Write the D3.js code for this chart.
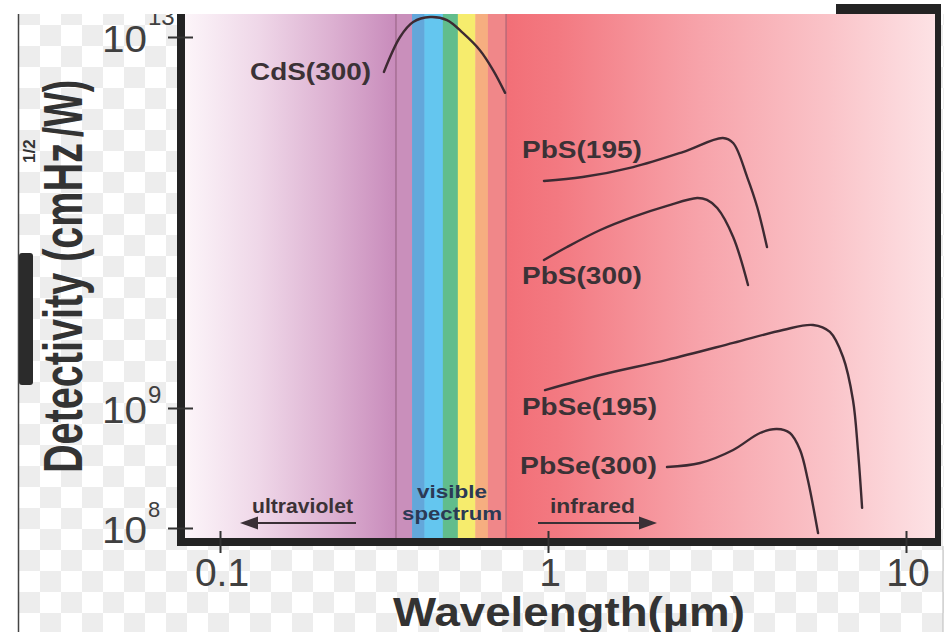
<!DOCTYPE html>
<html><head><meta charset="utf-8">
<script src="https://cdn.jsdelivr.net/npm/d3@7"></script>
<style>html,body{margin:0;padding:0;background:#fff;overflow:hidden}</style>
</head><body>
<svg id="c" width="944" height="632"></svg>
<script>
// ---------- DATA ----------
const wavelengthTicks = [0.1, 1, 10];
const wavelengthTickLabels = ["0.1", "1", "10"];
const detectivityTicks = [1e8, 1e9, 1e13];
const detectivityTickExponents = ["8", "9", "13"];

// [wavelength (µm), detectivity (cmHz^1/2/W)]
const cdS300 = [[0.316,4.2e12],[0.354,1.0e13],[0.388,1.45e13],[0.437,1.64e13],[0.492,1.52e13],[0.551,1.1e13],[0.620,7.2e12],[0.680,4.4e12],[0.740,2.5e12]];
const pbS195 = [[0.972,2.8e11],[1.25,3.09e11],[1.73,3.96e11],[2.38,5.75e11],[3.08,8.15e11],[3.29,7.2e11],[3.60,3.09e11],[3.84,1.47e11],[4.09,5.44e10]];
const pbS300 = [[0.972,3.94e10],[1.13,5.44e10],[1.40,8.3e10],[1.73,1.15e11],[2.15,1.51e11],[2.61,1.84e11],[2.78,1.75e11],[2.97,1.43e11],[3.29,6.98e10],[3.62,2.12e10]];
const pbSe195 = [[0.979,1.56e9],[1.40,2.27e9],[2.15,3.3e9],[3.29,5.03e9],[4.53,6.94e9],[5.50,7.86e9],[6.13,6.6e9],[6.67,3.55e9],[7.11,1.22e9],[7.34,4.47e8],[7.54,1.47e8]];
const pbSe300 = [[2.15,3.22e8],[2.66,3.48e8],[3.29,4.47e8],[3.91,6.19e8],[4.36,6.68e8],[4.74,6.19e8],[5.06,4.47e8],[5.32,2.51e8],[5.68,9.08e7]];
const seriesNames = ["CdS(300)", "PbS(195)", "PbS(300)", "PbSe(195)", "PbSe(300)"];
const seriesData = [cdS300, pbS195, pbS300, pbSe195, pbSe300];

// visible spectrum bands (µm edges) and colours
const bandEdges = [0.344, 0.385, 0.42, 0.478, 0.531, 0.60, 0.656, 0.745];
const bandColors = ["#c98fbb", "#63a7da", "#64c6ef", "#61bd8c", "#f6ec6d", "#f6ae80", "#f08789"];

// ---------- LAYOUT ----------
const FONT = "'Liberation Sans', Arial, Helvetica, sans-serif";
const plot = {left: 185, right: 935, top: 14, bottom: 538};
const labelPos = [
  {x: 371, y: 80, w: 121, anchor: "end"},
  {x: 522, y: 158, w: 120, anchor: "start"},
  {x: 522, y: 284, w: 120, anchor: "start"},
  {x: 522, y: 415, w: 135, anchor: "start"},
  {x: 520, y: 474, w: 137, anchor: "start"}
];
const expOffsets = [-11, -5, -12];   // superscript baseline offset from tick
const expSizes = [22, 24, 24];

const svg = d3.select("#c");
const defs = svg.append("defs");

// scales (piecewise log, as in the original drawing)
const x = d3.scaleLog().domain([0.1, 1, 10]).range([220, 548, 906]);
const y = d3.scaleLog().domain([1e8, 1e9, 1e13]).range([528, 408, 37]);

// checkerboard pattern
const pat = defs.append("pattern").attr("id", "checker").attr("patternUnits", "userSpaceOnUse")
  .attr("width", 42).attr("height", 42).attr("x", 19).attr("y", 4);
pat.append("rect").attr("width", 42).attr("height", 42).attr("fill", "#ffffff");
pat.append("rect").attr("width", 21).attr("height", 21).attr("fill", "#ededed");
pat.append("rect").attr("x", 21).attr("y", 21).attr("width", 21).attr("height", 21).attr("fill", "#ededed");

function gradient(id, stops) {
  const g = defs.append("linearGradient").attr("id", id).attr("x1", 0).attr("x2", 1).attr("y1", 0).attr("y2", 0);
  stops.forEach(s => g.append("stop").attr("offset", s[0]).attr("stop-color", s[1]));
}
gradient("uvGrad", [[0, "#fcf5f9"], [0.35, "#efd7e8"], [0.7, "#dcb0d1"], [1, "#c88bbb"]]);
gradient("irGrad", [[0, "#f26f77"], [0.12, "#f37981"], [0.45, "#f7a3aa"], [0.75, "#fac3c8"], [1, "#fde2e5"]]);

// backgrounds
svg.append("rect").attr("width", 944).attr("height", 632).attr("fill", "#fff");
svg.append("rect").attr("x", 19).attr("y", 14).attr("width", 925).attr("height", 618).attr("fill", "url(#checker)");

// plot regions
svg.append("rect").attr("x", plot.left).attr("y", plot.top)
  .attr("width", x(bandEdges[0]) - plot.left).attr("height", plot.bottom - plot.top).attr("fill", "url(#uvGrad)");
svg.append("rect").attr("x", x(bandEdges[bandEdges.length - 1])).attr("y", plot.top)
  .attr("width", plot.right - x(bandEdges[bandEdges.length - 1])).attr("height", plot.bottom - plot.top).attr("fill", "url(#irGrad)");
svg.append("g").selectAll("rect").data(bandColors).join("rect")
  .attr("x", (d, i) => x(bandEdges[i]))
  .attr("width", (d, i) => x(bandEdges[i + 1]) - x(bandEdges[i]) + 0.5)
  .attr("y", plot.top).attr("height", plot.bottom - plot.top).attr("fill", d => d);
// boundary lines of visible region
[bandEdges[0], bandEdges[bandEdges.length - 1]].forEach(v => {
  svg.append("line").attr("x1", x(v)).attr("x2", x(v)).attr("y1", plot.top).attr("y2", plot.bottom)
    .attr("stroke", "#7a4a62").attr("stroke-opacity", 0.45).attr("stroke-width", 1.5);
});

// curves
const line = d3.line().x(d => x(d[0])).y(d => y(d[1])).curve(d3.curveCatmullRom.alpha(0.5));
svg.append("g").selectAll("path").data(seriesData).join("path")
  .attr("d", line).attr("fill", "none").attr("stroke", "#3d2a32").attr("stroke-width", 2.4)
  .attr("stroke-linecap", "round");

function label(parent, o) {
  const g = parent.append("g").attr("transform", `translate(${o.x},${o.y})${o.tf || ""}`);
  const t = g.append("text").attr("font-family", FONT).attr("font-size", o.size)
    .attr("font-weight", o.weight || "bold").attr("fill", o.fill || "#3b3236")
    .attr("text-anchor", o.anchor || "start").text(o.text);
  if (o.w) {
    const L = t.node().getComputedTextLength();
    t.attr("transform", `scale(${o.w / L},1)`);
  }
  return t;
}

// series labels
seriesNames.forEach((n, i) => {
  const p = labelPos[i];
  label(svg, {x: p.x, y: p.y, text: n, size: 23, w: p.w, anchor: p.anchor});
});

// region labels + arrows
label(svg, {x: 252, y: 513, text: "ultraviolet", size: 20, w: 101});
label(svg, {x: 452, y: 498, text: "visible", size: 18, w: 70, anchor: "middle", fill: "#2b3a55"});
label(svg, {x: 452, y: 520, text: "spectrum", size: 18, w: 100, anchor: "middle", fill: "#2b3a55"});
label(svg, {x: 550, y: 513, text: "infrared", size: 20, w: 85});
const arrowC = "#3a3036";
svg.append("line").attr("x1", 356).attr("x2", 254).attr("y1", 523).attr("y2", 523).attr("stroke", arrowC).attr("stroke-width", 2);
svg.append("path").attr("d", "M240,523 L258,516.5 L258,529.5 Z").attr("fill", arrowC);
svg.append("line").attr("x1", 538).attr("x2", 643).attr("y1", 523).attr("y2", 523).attr("stroke", arrowC).attr("stroke-width", 2);
svg.append("path").attr("d", "M657,523 L639,516.5 L639,529.5 Z").attr("fill", arrowC);

// axes frame (thick lines)
const frameC = "#232323";
svg.append("rect").attr("x", 177).attr("y", plot.top).attr("width", 8).attr("height", 546 - plot.top).attr("fill", frameC);
svg.append("rect").attr("x", 177).attr("y", plot.bottom).attr("width", 941 - 177).attr("height", 8).attr("fill", frameC);
svg.append("rect").attr("x", plot.right).attr("y", 4).attr("width", 6).attr("height", 542).attr("fill", frameC);

// ticks via d3 axes
const ax = svg.append("g").attr("transform", "translate(193,0)")
  .call(d3.axisLeft(y).tickValues(detectivityTicks).tickSize(25).tickFormat(""));
const bx = svg.append("g").attr("transform", "translate(0,531)")
  .call(d3.axisBottom(x).tickValues(wavelengthTicks).tickSize(22).tickFormat(""));
[ax, bx].forEach(g => {
  g.select(".domain").remove();
  g.selectAll(".tick line").attr("stroke", "#333").attr("stroke-width", 2);
});

// y tick labels
detectivityTicks.forEach((v, i) => {
  label(svg, {x: 147, y: y(v) + 14.5, text: "10", size: 37, weight: "normal", fill: "#404040", w: 45, anchor: "end"});
  label(svg, {x: 148, y: y(v) + expOffsets[i], text: detectivityTickExponents[i], size: expSizes[i], weight: "normal", fill: "#404040"});
});
// x tick labels
wavelengthTicks.forEach((v, i) => {
  label(svg, {x: x(v) + 2, y: 586, text: wavelengthTickLabels[i], size: 39, weight: "normal", fill: "#404040", anchor: "middle"});
});

// axis titles
label(svg, {x: 393, y: 626, text: "Wavelength(µm)", size: 41, w: 352, fill: "#333"});
label(svg, {x: 82, y: 473, tf: " rotate(-90)", text: "Detectivity (cmHz", size: 56, w: 330, fill: "#333"});
label(svg, {x: 35, y: 163, tf: " rotate(-90)", text: "1/2", size: 17, fill: "#333"});
label(svg, {x: 82, y: 137, tf: " rotate(-90)", text: "/W)", size: 56, w: 57, fill: "#333"});

// screen artefacts of the original picture
svg.append("rect").attr("x", 0).attr("y", 0).attr("width", plot.right).attr("height", plot.top).attr("fill", "#fff");
svg.append("rect").attr("x", 836).attr("y", 4).attr("width", 105).attr("height", 10).attr("fill", frameC);
svg.append("line").attr("x1", 18.5).attr("x2", 18.5).attr("y1", plot.top).attr("y2", 632).attr("stroke", "#444").attr("stroke-width", 1.5);
svg.append("rect").attr("x", 19).attr("y", 253).attr("width", 14).attr("height", 132).attr("rx", 3).attr("fill", "#2b2b2b");
svg.append("line").attr("x1", 943).attr("x2", 943).attr("y1", 546).attr("y2", 632).attr("stroke", "#bbb").attr("stroke-width", 1);
</script></body></html>
